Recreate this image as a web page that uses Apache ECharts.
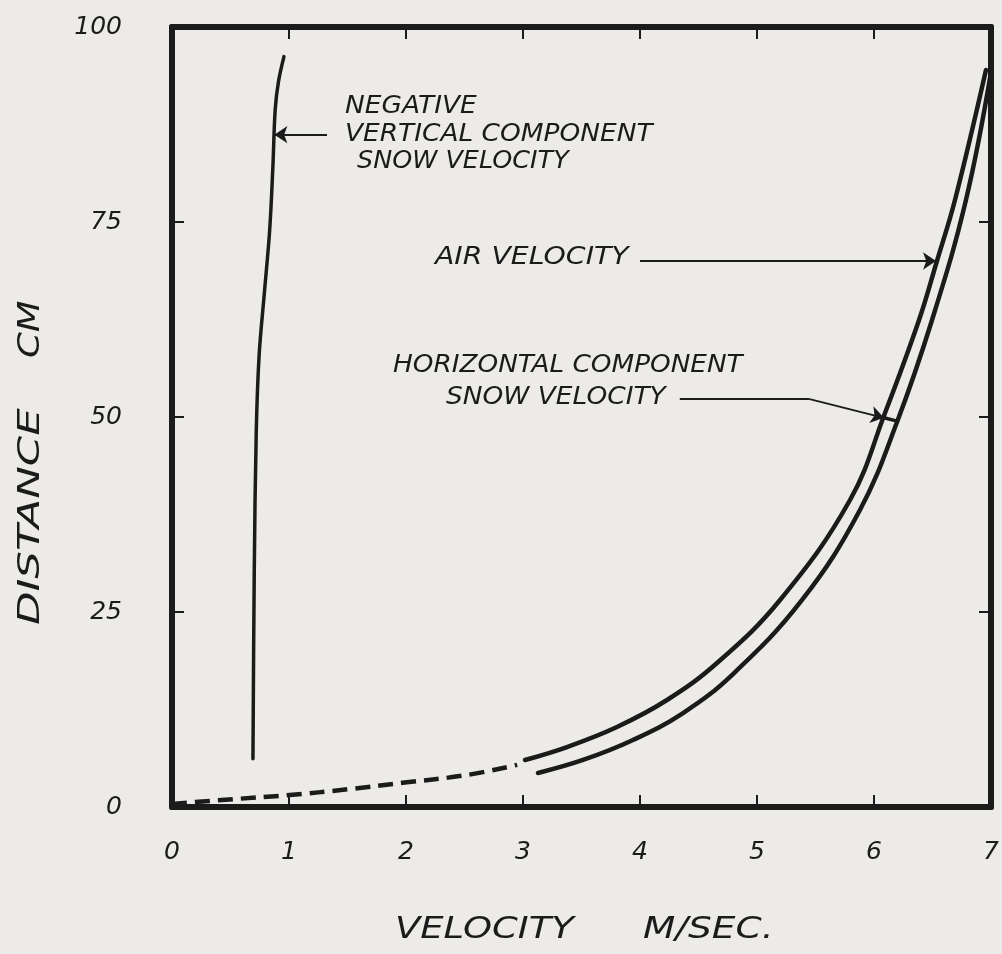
<!DOCTYPE html>
<html><head><meta charset="utf-8">
<script src="https://cdn.jsdelivr.net/npm/echarts@6/dist/echarts.min.js"></script>
<style>html,body{margin:0;padding:0;background:#ecebe8}#c{width:1002px;height:954px}</style>
</head><body><div id="c"></div>
<script>
// ---- data ----
const xTickLabels = ['0','1','2','3','4','5','6','7'];
const yTickLabels = ['0','25','50','75','100'];
const verticalSnowV = [0.692,0.703,0.720,0.745,0.790,0.835,0.862,0.882,0.910,0.957];
const verticalSnowD = [6.2,30,48,58,66,74,82,89.4,93,96.2];
const airV = [3.017,3.376,3.803,4.231,4.658,5.197,5.795,6.094,6.385,6.538,6.692,6.957];
const airD = [6.03,7.69,10.26,13.72,18.46,26.54,39.36,50.51,62.44,70.0,77.82,94.49];
const airExtV = [0,0.52,0.98,1.52,1.97,2.52,2.95];
const airExtD = [0.4,1.0,1.5,2.3,3.1,4.1,5.4];
const snowV = [3.128,3.513,3.940,4.368,4.795,5.385,5.880,6.197,6.496,6.786,7.0];
const snowD = [4.36,6.03,8.59,12.05,17.05,26.54,38.08,49.36,62.44,77.82,94.2];
// annotation arrows (data coordinates)
const arrowVertical = [[1.325,86.2],[0.875,86.2]];
const arrowAir = [[4.0,70.0],[6.53,70.0]];
const arrowSnowLead = [[4.34,52.3],[5.45,52.3]];
const arrowSnowTip = [[5.45,52.3],[6.085,49.9]];
const arrowSnowBar = [[6.085,49.9],[6.19,49.5]];

const pairs = (xs, ys) => xs.map((v, i) => [v, ys[i]]);
const INK = '#1b1b1b';
const FONT = 'DejaVu Sans';
const chart = echarts.init(document.getElementById('c'));

const txt = (text, x, y, size, sx, rot) => ({
  type: 'text', x, y, scaleX: sx, rotation: rot || 0,
  style: { text, fill: INK, font: 'italic 300 ' + size + 'px "' + FONT + '"', textVerticalAlign: 'middle' }
});

const axisCommon = {
  type: 'value', min: 0,
  axisLine: { show: true, onZero: false, lineStyle: { color: INK, width: 6 } },
  axisTick: { show: true, inside: true, length: 12, lineStyle: { color: INK, width: 2 } },
  splitLine: { show: false }
};
const lbl = { color: INK, fontFamily: FONT, fontStyle: 'italic', fontWeight: 300, fontSize: 25 };

chart.setOption({
  backgroundColor: '#ecebe8',
  animation: false,
  grid: { left: 172, right: 11, top: 27, bottom: 147 },
  xAxis: [
    Object.assign({}, axisCommon, { max: 7, interval: 1, position: 'bottom',
      axisLabel: Object.assign({ margin: 33, formatter: v => xTickLabels[Math.round(v)] }, lbl) }),
    Object.assign({}, axisCommon, { max: 7, interval: 1, position: 'top', axisLabel: { show: false } })
  ],
  yAxis: [
    Object.assign({}, axisCommon, { max: 100, interval: 25, position: 'left',
      axisLabel: Object.assign({ margin: 50, formatter: v => yTickLabels[Math.round(v / 25)] }, lbl) }),
    Object.assign({}, axisCommon, { max: 100, interval: 25, position: 'right', axisLabel: { show: false } })
  ],
  series: [
    { name: 'Negative vertical component snow velocity', type: 'line', smooth: 0.35, showSymbol: false,
      data: pairs(verticalSnowV, verticalSnowD), lineStyle: { color: INK, width: 3.5, cap: 'round' } },
    { name: 'Air velocity', type: 'line', smooth: 0.4, showSymbol: false,
      data: pairs(airV, airD), lineStyle: { color: INK, width: 4.5, cap: 'round' } },
    { name: 'Air velocity (extrapolated)', type: 'line', smooth: 0.4, showSymbol: false,
      data: pairs(airExtV, airExtD), lineStyle: { color: INK, width: 4.5, type: [15, 8] } },
    { name: 'Horizontal component snow velocity', type: 'line', smooth: 0.4, showSymbol: false,
      data: pairs(snowV, snowD), lineStyle: { color: INK, width: 4.5, cap: 'round' } },
    { type: 'lines', coordinateSystem: 'cartesian2d', symbol: ['none', 'arrow'], symbolSize: 13,
      lineStyle: { color: INK, width: 1.8, opacity: 1, curveness: 0 }, silent: true,
      data: [{ coords: arrowVertical }, { coords: arrowAir }, { coords: arrowSnowTip }] },
    { type: 'lines', coordinateSystem: 'cartesian2d', symbol: ['none', 'none'],
      lineStyle: { color: INK, width: 1.8, opacity: 1, curveness: 0 }, silent: true,
      data: [{ coords: arrowSnowLead }] },
    { type: 'lines', coordinateSystem: 'cartesian2d', symbol: ['none', 'none'],
      lineStyle: { color: INK, width: 3.5, opacity: 1, curveness: 0 }, silent: true,
      data: [{ coords: arrowSnowBar }] }
  ],
  graphic: [
    txt('NEGATIVE', 345, 107, 24, 1.1),
    txt('VERTICAL COMPONENT', 345, 135, 24, 1.1),
    txt('SNOW VELOCITY', 357, 162, 24, 1.06),
    txt('AIR VELOCITY', 435, 258, 24, 1.18),
    txt('HORIZONTAL COMPONENT', 393, 366, 24, 1.095),
    txt('SNOW VELOCITY', 446, 398, 24, 1.1),
    txt('VELOCITY', 395, 930, 30, 1.23),
    txt('M/SEC.', 643, 930, 30, 1.25),
    txt('DISTANCE', 31, 625, 30, 1.45, Math.PI / 2),
    txt('CM', 31, 358, 30, 1.23, Math.PI / 2)
  ]
});
</script></body></html>
